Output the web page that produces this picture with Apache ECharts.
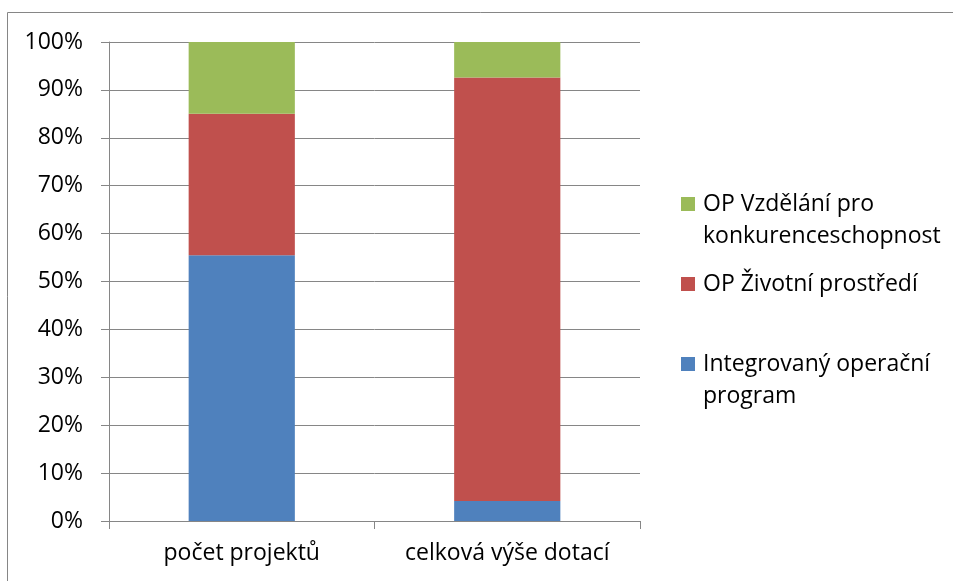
<!DOCTYPE html>
<html>
<head>
<meta charset="utf-8">
<script src="https://cdn.jsdelivr.net/npm/echarts@6/dist/echarts.min.js"></script>
<style>html,body{margin:0;padding:0;background:#fff}#c{width:953px;height:581px}</style>
</head>
<body>
<div id="c"></div>
<script>
const categories = ['počet projektů', 'celková výše dotací'];
const seriesNames = ['Integrovaný operační program', 'OP Životní prostředí', 'OP Vzdělání pro konkurenceschopnost'];
const legendLabels = ['Integrovaný operační\nprogram', 'OP Životní prostředí', 'OP Vzdělání pro\nkonkurenceschopnost'];
const iopValues = [55.5, 4.2];
const opzpValues = [29.5, 88.4];
const opvkValues = [15.0, 7.4];
const yTicks = [0, 10, 20, 30, 40, 50, 60, 70, 80, 90, 100];

const FONT = 'Open Sans';
const FS = 23;
const colors = ['#4F81BD', '#C0504D', '#9BBB59'];
const values = [iopValues, opzpValues, opvkValues];

const chart = echarts.init(document.getElementById('c'));
const legendTops = [348, 268, 188];
const topSquare = 'path://M0,9h14v14h-14Z M0,0h0.1v0.1h-0.1Z M0,63.9h0.1v0.1h-0.1Z';
const legends = seriesNames.map((name, i) => {
  const twoLine = legendLabels[i].indexOf('\n') >= 0;
  return {
    orient: 'vertical',
    left: 681,
    top: legendTops[i],
    padding: 0,
    data: [name],
    icon: twoLine ? topSquare : 'rect',
    itemWidth: 14,
    itemHeight: twoLine ? 64 : 14,
    selectedMode: false,
    formatter: () => legendLabels[i],
    textStyle: {
      fontFamily: FONT, fontSize: FS, color: '#000', lineHeight: 32,
      padding: [0, 0, 0, 3]
    }
  };
});

chart.setOption({
  animation: false,
  color: colors,
  graphic: [
    { type: 'line', shape: { x1: 7.5, y1: 12.5, x2: 953, y2: 12.5 }, style: { stroke: '#868686', lineWidth: 1 } },
    { type: 'line', shape: { x1: 7.5, y1: 12.5, x2: 7.5, y2: 581 }, style: { stroke: '#868686', lineWidth: 1 } }
  ],
  legend: legends,
  grid: { left: 109, right: 313, top: 42, bottom: 60 },
  xAxis: {
    type: 'category',
    data: categories,
    axisLine: { lineStyle: { color: '#868686', width: 1 } },
    axisTick: { show: true, length: 8, lineStyle: { color: '#868686' } },
    axisLabel: { fontFamily: FONT, fontSize: FS, color: '#000', margin: 21, interval: 0 }
  },
  yAxis: {
    type: 'value',
    min: 0, max: 100, interval: 10,
    axisLine: { show: true, lineStyle: { color: '#868686', width: 1 } },
    axisTick: { show: true, length: 8, lineStyle: { color: '#868686' } },
    splitLine: { lineStyle: { color: '#868686', width: 1 } },
    axisLabel: { fontFamily: FONT, fontSize: FS, color: '#000', margin: 26, formatter: v => yTicks.includes(v) ? v + '%' : '' }
  },
  series: seriesNames.map((name, i) => ({
    name: name,
    type: 'bar',
    stack: 'total',
    barWidth: '40%',
    data: values[i],
    itemStyle: { color: colors[i] }
  }))
});
</script>
</body>
</html>
